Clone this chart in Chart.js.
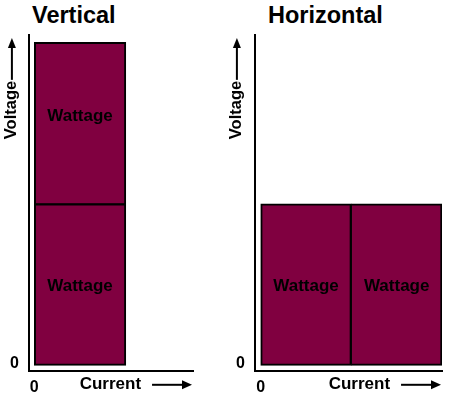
<!DOCTYPE html>
<html><head><meta charset="utf-8">
<script src="https://cdn.jsdelivr.net/npm/chart.js@4.4.0/dist/chart.umd.min.js"></script>
<style>
html,body{margin:0;padding:0;background:#fff;}
#wrap{position:relative;width:450px;height:398px;overflow:hidden;}
.panel{position:absolute;top:0;width:225px;height:398px;}
.panel canvas{position:absolute;left:0;top:0;}
.ttl{position:absolute;top:4px;font:bold 23.5px "Liberation Sans",Arial,sans-serif;line-height:23.5px;color:#000;white-space:nowrap;}
</style></head><body>
<div id="wrap">
 <div class="panel" style="left:0"><div class="ttl" id="t1" style="left:32px"></div><canvas id="c1" width="225" height="398"></canvas></div>
 <div class="panel" style="left:225px"><div class="ttl" id="t2" style="left:43px"></div><canvas id="c2" width="225" height="398"></canvas></div>
</div>
<script>
// ---------- data ----------
const PANEL_TITLES = ['Vertical', 'Horizontal'];
const X_TITLE = 'Current';
const Y_TITLE = 'Voltage';
const ZERO_TICK = '0';

// Vertical: one bar, one unit of current wide, two wattage blocks stacked in voltage
const VERT_LABELS = ['Wattage', 'Wattage'];
const VERT_CURRENT = [0.5];      // bar centre on the current axis (spans 0..1)
const VERT_VOLTAGE = [1, 1];     // voltage of each stacked block

// Horizontal: two bars side by side, each one unit of current wide
const HORIZ_LABELS = ['Wattage', 'Wattage'];
const HORIZ_CURRENT = [0.5, 1.5];
const HORIZ_VOLTAGE = [1, 1];

// axis ranges
const VERT_X_RANGE = [-0.058, 1.734];
const HORIZ_X_RANGE = [-0.063, 2];
const Y_RANGE = [-0.035, 2.045];

// ---------- style ----------
const FAMILY = '"Liberation Sans", Arial, sans-serif';
const FILL = 'rgb(128,0,64)';
const X_TITLE_SIZE = 17, Y_TITLE_SIZE = 16.5, TITLE_LH = 1.2;
const Y_TITLE_PAD = 2, X_TITLE_PAD = 3;
const Y_TRAIL = 10, X_TRAIL = 11;

Chart.defaults.font.family = FAMILY;
Chart.defaults.color = '#000';

document.getElementById('t1').textContent = PANEL_TITLES[0];
document.getElementById('t2').textContent = PANEL_TITLES[1];

const wattLabels = {
  id: 'wattLabels',
  afterDatasetsDraw(chart, args, opts) {
    const ctx = chart.ctx;
    ctx.save();
    ctx.font = 'bold 17px ' + FAMILY;
    ctx.fillStyle = '#000';
    ctx.textAlign = 'center';
    ctx.textBaseline = 'middle';
    chart.data.datasets.forEach((ds, di) => {
      chart.getDatasetMeta(di).data.forEach((el, i) => {
        const p = el.getProps(['x', 'y', 'base'], true);
        const nudge = (opts.nudge && opts.nudge[di] && opts.nudge[di][i]) || 0;
        ctx.fillText(opts.texts[di][i], p.x, (p.y + p.base) / 2 + nudge);
      });
    });
    ctx.restore();
  }
};

const axisArrows = {
  id: 'axisArrows',
  afterDraw(chart) {
    const ctx = chart.ctx;
    const xs = chart.scales.x, ys = chart.scales.y;
    ctx.save();
    ctx.strokeStyle = '#000';
    ctx.fillStyle = '#000';
    ctx.lineWidth = 2;
    // y arrow (pointing up)
    ctx.font = 'bold ' + Y_TITLE_SIZE + 'px ' + FAMILY;
    const yW = ctx.measureText(' '.repeat(Y_TRAIL)).width;
    const ax = ys.left + Y_TITLE_PAD + Y_TITLE_SIZE * TITLE_LH / 2;
    const tipY = ys.top + 3;
    ctx.beginPath();
    ctx.moveTo(ax, ys.top + yW - 1);
    ctx.lineTo(ax, tipY + 8);
    ctx.stroke();
    ctx.beginPath();
    ctx.moveTo(ax, tipY);
    ctx.lineTo(ax - 4, tipY + 10);
    ctx.lineTo(ax + 4, tipY + 10);
    ctx.closePath();
    ctx.fill();
    // x arrow (pointing right)
    ctx.font = 'bold ' + X_TITLE_SIZE + 'px ' + FAMILY;
    const xW = ctx.measureText(' '.repeat(X_TRAIL)).width;
    const ay = xs.bottom - X_TITLE_PAD - X_TITLE_SIZE * TITLE_LH / 2;
    const tipX = xs.right - 1;
    ctx.beginPath();
    ctx.moveTo(xs.right - xW + 11, ay);
    ctx.lineTo(tipX - 8, ay);
    ctx.stroke();
    ctx.beginPath();
    ctx.moveTo(tipX, ay);
    ctx.lineTo(tipX - 10, ay - 4.5);
    ctx.lineTo(tipX - 10, ay + 4.5);
    ctx.closePath();
    ctx.fill();
    ctx.restore();
  }
};

function scalesFor(xRange, yAxisWidth) {
  return {
    x: {
      type: 'linear', offset: false, min: xRange[0], max: xRange[1],
      grid: { display: false, drawTicks: false },
      border: { display: true, color: '#000', width: 2 },
      ticks: { stepSize: 1, includeBounds: false, padding: 7, maxRotation: 0, autoSkip: false,
               font: { size: 16, weight: 'bold' }, color: '#000',
               callback: v => (v === 0 ? ZERO_TICK : '') },
      title: { display: true, text: X_TITLE + ' '.repeat(X_TRAIL), align: 'end', color: '#000',
               font: { size: X_TITLE_SIZE, weight: 'bold', lineHeight: TITLE_LH },
               padding: { top: 0, bottom: X_TITLE_PAD } },
      afterFit: s => { s.height = 27; }
    },
    y: {
      type: 'linear', stacked: true, min: Y_RANGE[0], max: Y_RANGE[1],
      grid: { display: false, drawTicks: false },
      border: { display: true, color: '#000', width: 2 },
      ticks: { stepSize: 1, includeBounds: false, padding: 10, labelOffset: -2,
               font: { size: 16, weight: 'bold' }, color: '#000',
               callback: v => (v === 0 ? ZERO_TICK : '') },
      title: { display: true, text: Y_TITLE + ' '.repeat(Y_TRAIL), align: 'end', color: '#000',
               font: { size: Y_TITLE_SIZE, weight: 'bold', lineHeight: TITLE_LH },
               padding: { top: Y_TITLE_PAD, bottom: 0 } },
      afterFit: s => { s.width = yAxisWidth; }
    }
  };
}

const common = (padRight) => ({
  responsive: false, animation: false, devicePixelRatio: 1,
  layout: { padding: { top: 35, right: padRight, bottom: 0, left: 0 } },
  plugins: { legend: { display: false }, tooltip: { enabled: false }, title: { display: false } }
});

// Vertical panel
new Chart(document.getElementById('c1'), {
  type: 'bar',
  data: {
    datasets: VERT_VOLTAGE.map((v, i) => ({
      label: VERT_LABELS[i],
      data: VERT_CURRENT.map(x => ({ x: x, y: v })),
      stack: 'w',
      backgroundColor: FILL, borderColor: '#000',
      borderWidth: i === 0 ? { top: 2, bottom: 2, left: 2, right: 2 } : { top: 2, bottom: 1, left: 2, right: 2 },
      borderSkipped: false,
      barPercentage: 1, categoryPercentage: 1
    }))
  },
  options: Object.assign(common(32), {
    scales: scalesFor(VERT_X_RANGE, 29),
    plugins: Object.assign(common(32).plugins, {
      wattLabels: { texts: VERT_LABELS.map(l => [l]), nudge: [[1.5], [-6.5]] }
    })
  }),
  plugins: [wattLabels, axisArrows]
});

// Horizontal panel
new Chart(document.getElementById('c2'), {
  type: 'bar',
  data: {
    datasets: [{
      label: HORIZ_LABELS[0],
      data: HORIZ_CURRENT.map((x, i) => ({ x: x, y: HORIZ_VOLTAGE[i] })),
      backgroundColor: FILL, borderColor: '#000',
      borderWidth: c => (c.dataIndex > 0 ? { top: 2, bottom: 2, left: 1, right: 2 } : { top: 2, bottom: 2, left: 2, right: 2 }),
      borderSkipped: false,
      barPercentage: 1, categoryPercentage: 1
    }]
  },
  options: Object.assign(common(8), {
    scales: scalesFor(HORIZ_X_RANGE, 30),
    plugins: Object.assign(common(8).plugins, {
      wattLabels: { texts: [HORIZ_LABELS], nudge: [[1.5, 1.5]] }
    })
  }),
  plugins: [wattLabels, axisArrows]
});
</script>
</body></html>
